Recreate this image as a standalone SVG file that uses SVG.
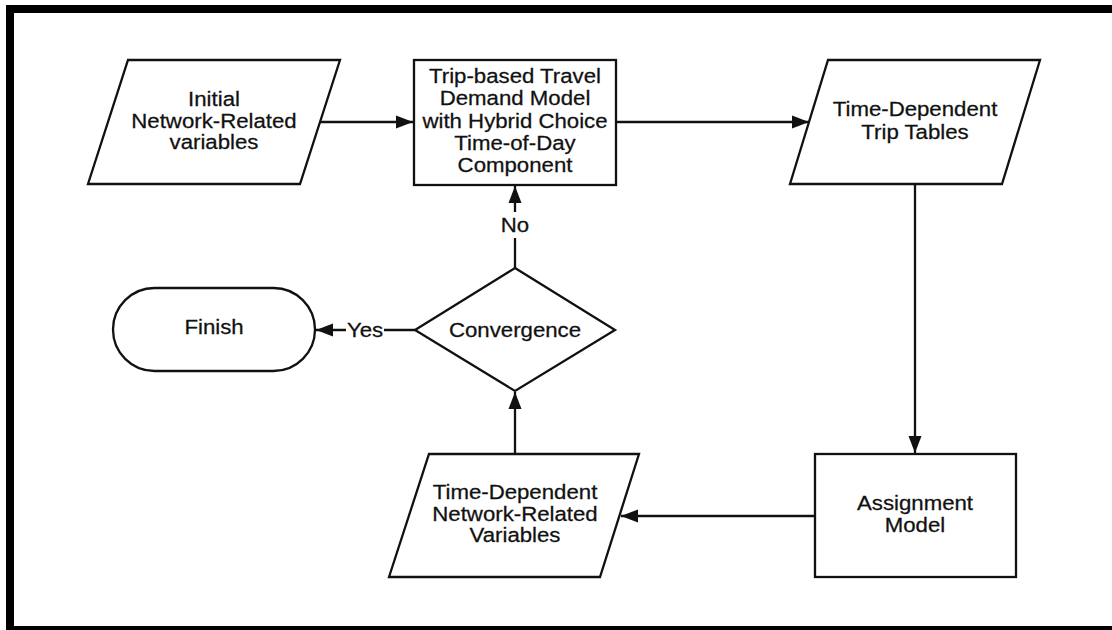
<svg xmlns="http://www.w3.org/2000/svg" width="1112" height="630" viewBox="0 0 1112 630">
<style>
.shape{fill:#fff;stroke:#111;stroke-width:2.3;stroke-linejoin:miter}
.conn{fill:none;stroke:#111;stroke-width:2.3}
.lbl{font-family:"Liberation Sans",Arial,sans-serif;font-size:19.5px;fill:#111;text-anchor:middle;stroke:#111;stroke-width:0.25}
.bg{fill:#fff}
</style>
<defs>
<marker id="arr" markerUnits="userSpaceOnUse" markerWidth="18" markerHeight="14" refX="17" refY="7" orient="auto">
<path d="M0,0.5 L17,7 L0,13.5 z" fill="#111"/>
</marker>
</defs>
<rect x="0" y="0" width="1112" height="630" fill="#fff"/>
<rect id="frame" x="10" y="9" width="1140" height="621" fill="none" stroke="#000" stroke-width="8"/>

<g id="connectors">
<path class="conn" d="M320,122 L413,122" marker-end="url(#arr)"/>
<path class="conn" d="M616,122 L809,122" marker-end="url(#arr)"/>
<path class="conn" d="M915,184 L915,453" marker-end="url(#arr)"/>
<path class="conn" d="M815,516 L621,516" marker-end="url(#arr)"/>
<path class="conn" d="M515,454 L515,392" marker-end="url(#arr)"/>
<path class="conn" d="M515,268 L515,186" marker-end="url(#arr)"/>
<path class="conn" d="M415,330 L316,330" marker-end="url(#arr)"/>
<rect class="bg" x="500" y="212" width="30" height="26"/>
<text class="lbl" transform="matrix(1.14 0 0 1 515 0)" x="0" y="232">No</text>
<rect class="bg" x="346" y="318" width="38" height="24"/>
<text class="lbl" transform="matrix(1.14 0 0 1 365 0)" x="0" y="337">Yes</text>
</g>

<g id="initial">
<polygon class="shape" points="128,60 340,60 300,184 88,184"/>
<g transform="matrix(1.14 0 0 1 214 0)">
<text class="lbl" x="0" y="106.5">Initial</text>
<text class="lbl" x="0" y="128">Network-Related</text>
<text class="lbl" x="0" y="149.5">variables</text>
</g>
</g>

<g id="demand-model">
<rect class="shape" x="414" y="60" width="202" height="125"/>
<g transform="matrix(1.14 0 0 1 515 0)">
<text class="lbl" x="0" y="83">Trip-based Travel</text>
<text class="lbl" x="0" y="105.5">Demand Model</text>
<text class="lbl" x="0" y="128">with Hybrid Choice</text>
<text class="lbl" x="0" y="150">Time-of-Day</text>
<text class="lbl" x="0" y="172.5">Component</text>
</g>
</g>

<g id="trip-tables">
<polygon class="shape" points="828,60 1040,60 1002,184 790,184"/>
<g transform="matrix(1.14 0 0 1 915 0)">
<text class="lbl" x="0" y="116.5">Time-Dependent</text>
<text class="lbl" x="0" y="139">Trip Tables</text>
</g>
</g>

<g id="assignment">
<rect class="shape" x="815" y="454" width="201" height="123"/>
<g transform="matrix(1.14 0 0 1 915 0)">
<text class="lbl" x="0" y="510.5">Assignment</text>
<text class="lbl" x="0" y="532.5">Model</text>
</g>
</g>

<g id="network-variables">
<polygon class="shape" points="429,454 639,454 600,577 389,577"/>
<g transform="matrix(1.14 0 0 1 515 0)">
<text class="lbl" x="0" y="499">Time-Dependent</text>
<text class="lbl" x="0" y="521">Network-Related</text>
<text class="lbl" x="0" y="542.5">Variables</text>
</g>
</g>

<g id="convergence">
<polygon class="shape" points="515,268 615,330 515,391 415,330"/>
<text class="lbl" transform="matrix(1.14 0 0 1 515 0)" x="0" y="337">Convergence</text>
</g>

<g id="finish">
<rect class="shape" x="113" y="288" width="202" height="83" rx="41.5" ry="41.5"/>
<text class="lbl" transform="matrix(1.14 0 0 1 214 0)" x="0" y="334">Finish</text>
</g>
</svg>
